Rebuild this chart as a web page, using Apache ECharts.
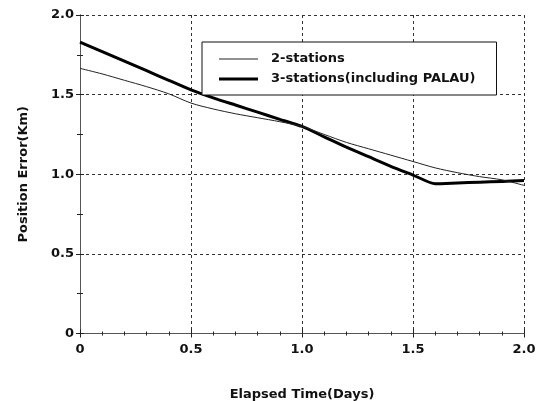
<!DOCTYPE html>
<html>
<head>
<meta charset="utf-8">
<script src="https://cdn.jsdelivr.net/npm/echarts@6/dist/echarts.min.js"></script>
<style>
    html, body { margin: 0; padding: 0; background: #fff; }
    #chart { width: 543px; height: 401px; }
</style>
</head>
<body>
<div id="chart"></div>
<script>
// elapsed time (days)
const days = [0, 0.1, 0.2, 0.3, 0.4, 0.5, 0.6, 0.7, 0.8, 0.9, 1.0, 1.1, 1.2, 1.3, 1.4, 1.5, 1.6, 1.7, 1.8, 1.9, 2.0];
// position error (km)
const twoStations = [1.665, 1.63, 1.59, 1.55, 1.505, 1.447, 1.41, 1.38, 1.355, 1.33, 1.30, 1.25, 1.20, 1.16, 1.12, 1.08, 1.04, 1.01, 0.985, 0.965, 0.93];
const threeStations = [1.83, 1.77, 1.71, 1.65, 1.59, 1.53, 1.48, 1.435, 1.39, 1.345, 1.30, 1.235, 1.17, 1.11, 1.05, 0.995, 0.94, 0.945, 0.95, 0.955, 0.96];
const seriesNames = ['2-stations', '3-stations(including PALAU)'];

const font = 'DejaVu Sans, Liberation Sans, Arial, sans-serif';
const axisColor = '#555';

// legend swatches: a horizontal bar, with two specks to fix the 39x10 box
const thinIcon = 'path://M0,4.5H39V5.5H0Z M0,0H0.01V0.01H0Z M39,10H38.99V9.99H39Z';
const thickIcon = 'path://M0,3.5H39V6.5H0Z M0,0H0.01V0.01H0Z M39,10H38.99V9.99H39Z';

function pairs(ys) {
    return days.map((d, i) => [d, ys[i]]);
}

function fmt(v) {
    return v === 0 ? '0' : v.toFixed(1);
}

const baseAxis = {
    type: 'value',
    min: 0,
    max: 2,
    interval: 0.5,
    axisLine: { show: true, lineStyle: { color: axisColor, width: 1 } },
    axisTick: { show: true, inside: true, length: 4, lineStyle: { color: '#222' } },
    axisLabel: { show: false },
    splitLine: { show: false },
};

const labelStyle = {
    fontFamily: font,
    fontWeight: 'bold',
    fontSize: 13,
    color: '#111',
};

const chart = echarts.init(document.getElementById('chart'));
chart.setOption({
    animation: false,
    backgroundColor: '#fff',
    grid: { left: 80, right: 19, top: 15, bottom: 67.5, outerBoundsMode: 'none', containLabel: false },
    legend: {
        orient: 'vertical',
        left: 202,
        top: 42,
        data: [
            { name: seriesNames[0], icon: thinIcon },
            { name: seriesNames[1], icon: thickIcon },
        ],
        itemWidth: 39,
        itemHeight: 10,
        itemGap: 6,
        padding: [10, 21, 9, 17],
        borderColor: '#111',
        borderWidth: 1,
        backgroundColor: '#fff',
        borderRadius: 0,
        textStyle: Object.assign({}, labelStyle, { lineHeight: 14, padding: [0, 0, 0, 8] }),
    },
    xAxis: [
        Object.assign({}, baseAxis, {
            position: 'bottom',
            name: 'Elapsed Time(Days)',
            nameLocation: 'middle',
            nameGap: 55,
            nameTextStyle: labelStyle,
            minorTick: { show: true, splitNumber: 5, length: 2, lineStyle: { color: '#222' } },
            axisLabel: Object.assign({ show: true, margin: 10, formatter: fmt }, labelStyle),
            splitLine: { show: true, lineStyle: { color: '#333', type: [3, 3], width: 1 } },
        }),
        Object.assign({}, baseAxis, {
            position: 'top',
            minorTick: { show: true, splitNumber: 5, length: 2, lineStyle: { color: '#222' } },
        }),
    ],
    yAxis: [
        Object.assign({}, baseAxis, {
            position: 'left',
            name: 'Position Error(Km)',
            nameLocation: 'middle',
            nameGap: 50,
            nameTextStyle: labelStyle,
            minorTick: { show: true, splitNumber: 2, length: 3, lineStyle: { color: '#222' } },
            axisLabel: Object.assign({ show: true, margin: 6, formatter: fmt }, labelStyle),
            splitLine: { show: true, lineStyle: { color: '#333', type: [3, 3], width: 1 } },
        }),
        Object.assign({}, baseAxis, {
            position: 'right',
            minorTick: { show: true, splitNumber: 2, length: 3, lineStyle: { color: '#222' } },
        }),
    ],
    series: [
        {
            name: seriesNames[0],
            type: 'line',
            data: pairs(twoStations),
            smooth: 0.3,
            symbol: 'none',
            lineStyle: { color: '#222', width: 1 },
            itemStyle: { color: '#222' },
            z: 3,
        },
        {
            name: seriesNames[1],
            type: 'line',
            data: pairs(threeStations),
            smooth: 0.2,
            symbol: 'none',
            lineStyle: { color: '#000', width: 3 },
            itemStyle: { color: '#000' },
            z: 2,
        },
    ],
});
</script>
</body>
</html>
